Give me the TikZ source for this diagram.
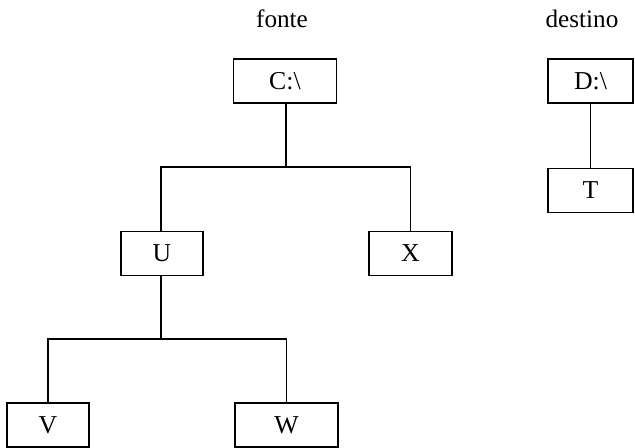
\documentclass[tikz,border=0pt]{standalone}
\usepackage{fontspec}
\setmainfont{Liberation Serif}
\usetikzlibrary{positioning, calc}
\tikzset{
  blk/.style={rectangle, draw=black, line width=1.2pt,
    minimum width=2.5cm, minimum height=1.32cm,
    inner sep=2pt, font=\fontsize{22}{26}\selectfont},
  blkW/.style={blk, minimum width=3.08cm},
  lbl/.style={font=\fontsize{21.5}{26}\selectfont, anchor=base},
  conn/.style={draw=black, line width=1.2pt},
}
\begin{document}
\begin{tikzpicture}[x=0.03cm, y=-0.03cm]
  \useasboundingbox (0,0) rectangle (635,448);

  \node[lbl] (src) at (282,27) {fonte};
  \node[lbl] (dst) at (582,27) {destino};

  \node[blkW] (c) at (285,81) {C:\textbackslash};
  \node[blk, minimum width=2.55cm] (d) at (590.5,81) {D:\textbackslash};
  \node[blk, minimum width=2.55cm] (t) at (590.5,190.5) {T};

  \node[blk, minimum width=2.46cm] (u) at (162,253.5) {U};
  \node[blk, minimum width=2.49cm] (x) at (410.5,253.5) {X};

  \node[blk, minimum width=2.46cm] (v) at (48,425) {V};
  \node[blkW] (w) at (286.5,425) {W};

  \coordinate (busC) at (286,167);
  \coordinate (busU) at (161,339);

  \draw[conn] (c.south -| busC) -- (busC) -| (u.north -| busU);
  \draw[conn] (busC) -| (x.north);
  \draw[conn] (u.south -| busU) -- (busU) -| (v.north);
  \draw[conn] (busU) -| (w.north);
  \draw[conn] (d.south) -- (t.north);
\end{tikzpicture}
\end{document}
